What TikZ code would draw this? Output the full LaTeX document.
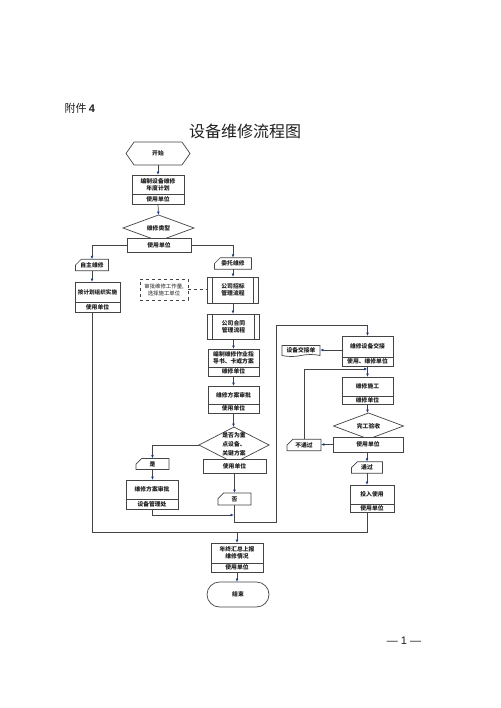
\documentclass[tikz,border=0pt]{standalone}
\usepackage{fontspec}
\setmainfont{Liberation Sans}
\newfontfamily\cjk{Noto Sans CJK SC}
\usetikzlibrary{shapes.geometric,shapes.misc,shapes.symbols,arrows.meta}
\definecolor{linec}{HTML}{444444}
\definecolor{arrc}{HTML}{1F3C88}
\definecolor{txtc}{HTML}{1E1E1E}
\begin{document}
\begin{tikzpicture}[x=1pt,y=-1pt,
  base/.style={draw=linec, fill=white, line width=0.7pt, inner sep=0pt, outer sep=0pt,
    align=center, text=txtc, font=\cjk\bfseries\fontsize{5.8}{7}\selectfont},
  bx/.style 2 args={base, rectangle, minimum width=#1pt, minimum height=#2pt},
  pp/.style 2 args={bx={#1}{#2}, path picture={
    \draw[linec,line width=0.7pt] ([xshift=5pt]path picture bounding box.north west) -- ([xshift=5pt]path picture bounding box.south west)
      ([xshift=-5pt]path picture bounding box.north east) -- ([xshift=-5pt]path picture bounding box.south east);}},
  tagbox/.style 2 args={base, chamfered rectangle, chamfered rectangle corners=north west,
    chamfered rectangle xsep=3pt, chamfered rectangle ysep=3pt, minimum width=#1pt, minimum height=#2pt},
  dia/.style 2 args={base, diamond, aspect=2.5, minimum width=#1pt, minimum height=#2pt},
  ln/.style={draw=linec, line width=0.7pt},
  arr/.style={ln, -{Latex[length=3.4pt,width=2.8pt,color=arrc]}}
]
\useasboundingbox[fill=white] (0,0) rectangle (500,708);

% headings
\node[anchor=west, font=\cjk\fontsize{11}{13}\selectfont, text=txtc] (att) at (61,108) {附件 {\rmfamily\bfseries 4}};
\node[font=\cjk\fontsize{16}{18}\selectfont, text=txtc] (title) at (245,131) {设备维修流程图};
\node[font=\fontsize{11}{13}\selectfont, text=txtc] (pg) at (404,641) {— 1 —};

% start
\node[base, signal, signal to=west and east, signal pointer angle=110, minimum width=64pt, minimum height=23pt] (st) at (158,153.5) {开始};

% plan box
\node[bx={52}{19}] (b1t) at (158,184.5) {编制设备维修\\年度计划};
\node[bx={52}{10}] (b1b) at (158,199) {使用单位};

% type diamond
\node[dia={71}{26}] (d1) at (158.5,228) {维修类型};
\node[bx={64}{14}] (btype) at (159,245) {使用单位};

% self repair
\node[tagbox={33}{10}] (tself) at (92,265) {自主维修};
\node[bx={45}{20}, font=\cjk\bfseries\fontsize{5.6}{7}\selectfont] (bselft) at (97.5,292) {按计划组织实施};
\node[bx={45}{10}] (bselfb) at (97.5,307) {使用单位};

% entrusted repair
\node[tagbox={37}{11}] (tent) at (233,263.5) {委托维修};
\node[bx={48}{21}, dashed, font=\cjk\fontsize{5.4}{7}\selectfont] (dsh) at (164,289.5) {审批维修工作量,\\选择施工单位};
\node[pp={51}{26}] (bbid) at (233,290) {公司招标\\管理流程};
\node[pp={52}{25}] (bcon) at (233.5,326.5) {公司合同\\管理流程};
\node[bx={51}{18}] (bplant) at (233.5,358) {编制维修作业指\\导书、卡或方案};
\node[bx={51}{9}] (bplanb) at (233.5,371.5) {维修单位};
\node[bx={51}{18}] (bapprt) at (233.5,395) {维修方案审批};
\node[bx={51}{9}] (bapprb) at (233.5,408.5) {使用单位};
\node[dia={70}{36}] (d2) at (234,445) {};
\node[align=center, inner sep=0pt, text=txtc, font=\cjk\bfseries\fontsize{5.8}{8.8}\selectfont] (d2txt) at (234,444.5) {是否为重\\点设备、\\关键方案};
\node[bx={63}{14}] (bd2) at (234.5,466) {使用单位};
\node[tagbox={33}{10}] (tyes) at (152.5,464) {是};
\node[bx={52}{19}] (bappr2t) at (152,489.5) {维修方案审批};
\node[bx={52}{10}] (bappr2b) at (152,504) {设备管理处};
\node[tagbox={33}{12}] (tno) at (234.5,499) {否};

% right column
\node[bx={51}{21}] (bhandt) at (367.5,346.5) {维修设备交接};
\node[bx={51}{9}] (bhandb) at (367.5,361.5) {使用、维修单位};
\node[base, tape, tape bend top=none, tape bend height=2pt, minimum width=38pt, minimum height=11pt] (doc) at (301,350) {设备交接单};
\node[bx={51}{19}] (bworkt) at (367.5,386.5) {维修施工};
\node[bx={51}{8}] (bworkb) at (367.5,400) {维修单位};
\node[dia={70}{26}] (d3) at (368.5,426) {完工验收};
\node[bx={70}{15}] (bd3) at (368,444.5) {使用单位};
\node[tagbox={34}{10}] (tfail) at (304,445) {不通过};
\node[tagbox={31}{11}] (tpass) at (367,467.5) {通过};
\node[bx={44}{19}] (buset) at (372,494.5) {投入使用};
\node[bx={44}{8}] (buseb) at (372,508) {使用单位};

% summary and end
\node[bx={52}{20}] (bsumt) at (237,553) {年终汇总上报\\维修情况};
\node[bx={52}{9}] (bsumb) at (237,567.5) {使用单位};
\node[base, rounded rectangle, minimum width=62pt, minimum height=25pt] (end) at (238,594.5) {结束};

% helper coordinates
\coordinate (mR) at (367,532);
\coordinate (c1) at (276,522);
\coordinate (c2) at (276,325);
\coordinate (c3) at (234,515);
\coordinate (c4) at (367.5,369);

% connectors
\draw[arr] (st.south) -- (b1t.north);
\draw[arr] (b1b.south) -- (d1.north);
\draw[arr] (btype.west) -| (tself.north);
\draw[arr] (btype.east) -| (tent.north);
\draw[arr] (tself.south) -- (tself.south |- bselft.north);
\draw[ln] (tself.south |- bselfb.south) |- (mR) -- (mR |- buseb.south);
\draw[arr] (bsumt.north |- mR) -- (bsumt.north);
\draw[ln, dashed] (dsh.east) -- (dsh.east -| bbid.west);
\draw[arr] (tent.south) -- (tent.south |- bbid.north);
\draw[arr] (bbid.south) -- (bbid.south |- bcon.north);
\draw[arr] (bcon.south) -- (bplant.north);
\draw[arr] (bplanb.south) -- (bapprt.north);
\draw[arr] (bapprb.south) -- (bapprb.south |- d2.north);
\draw[arr] (d2.west) -| (tyes.north);
\draw[arr] (tyes.south) -- (tyes.south |- bappr2t.north);
\draw[arr] (bappr2b.south) |- (c3);
\draw[arr] (bd2.south) -- (tno.north);
\draw[arr] (tno.south) |- (c1) -- (c2) -| (bhandt.north);
\draw[arr] (bhandt.west |- doc.east) -- (doc.east);
\draw[arr] (bhandb.south) -- (bworkt.north);
\draw[arr] (bworkb.south) -- (bworkb.south |- d3.north);
\draw[arr] (bd3.west) -- (bd3.west -| tfail.east);
\draw[arr] (tfail.north) |- (c4);
\draw[arr] (bd3.south -| tpass.north) -- (tpass.north);
\draw[arr] (tpass.south) -- (tpass.south |- buset.north);
\draw[arr] (bsumb.south) -- (bsumb.south |- end.north);
\end{tikzpicture}
\end{document}
